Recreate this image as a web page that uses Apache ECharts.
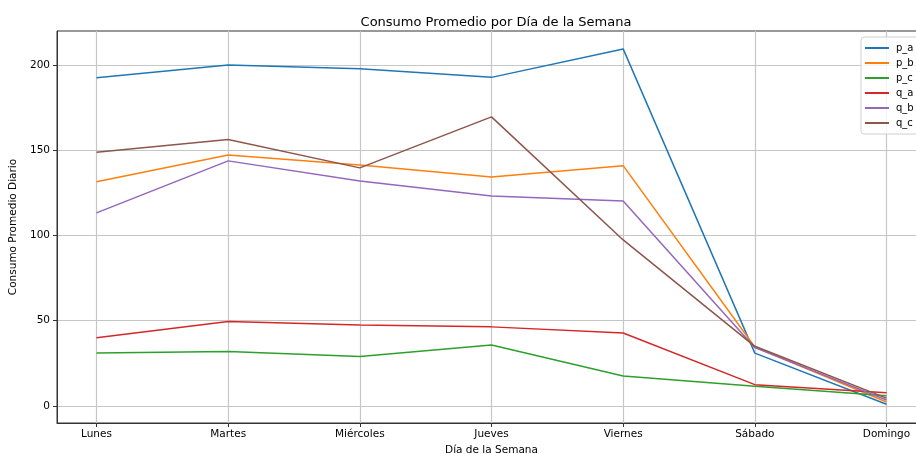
<!DOCTYPE html>
<html>
<head>
<meta charset="utf-8">
<script src="https://cdn.jsdelivr.net/npm/echarts@6/dist/echarts.min.js"></script>
<style>
  html, body { margin: 0; padding: 0; background: #fff; }
  #chart { width: 916px; height: 454px; }
</style>
</head>
<body>
<div id="chart"></div>
<script>
const days = ['Lunes', 'Martes', 'Miércoles', 'Jueves', 'Viernes', 'Sábado', 'Domingo'];
const yTicks = [0, 50, 100, 150, 200];

const p_a = [192.5, 200.0, 197.8, 192.8, 209.5, 31.0, 1.0];
const p_b = [131.5, 147.3, 141.4, 134.4, 141.0, 34.6, 2.3];
const p_c = [31.0, 32.0, 29.0, 35.8, 17.6, 11.6, 6.0];
const q_a = [40.0, 49.6, 47.5, 46.4, 42.8, 12.5, 7.8];
const q_b = [113.3, 143.8, 132.0, 123.2, 120.3, 34.2, 3.5];
const q_c = [148.8, 156.4, 139.7, 169.6, 97.4, 35.0, 4.6];

const seriesNames = ['p_a', 'p_b', 'p_c', 'q_a', 'q_b', 'q_c'];
const seriesData = [p_a, p_b, p_c, q_a, q_b, q_c];
const colors = ['#1f77b4', '#ff7f0e', '#2ca02c', '#d62728', '#9467bd', '#8c564b'];

const font = 'DejaVu Sans';
const chart = echarts.init(document.getElementById('chart'));

chart.setOption({
  animation: false,
  color: colors,
  title: {
    text: 'Consumo Promedio por Día de la Semana',
    left: 491, top: 11, textAlign: 'center',
    textStyle: { fontFamily: font, fontSize: 13, fontWeight: 'normal', color: '#000' }
  },
  legend: {
    orient: 'vertical',
    left: 861, top: 37,
    itemWidth: 24, itemHeight: 2, itemGap: 5,
    icon: 'rect',
    backgroundColor: 'rgba(255,255,255,0.8)',
    borderColor: '#d0d0d0', borderWidth: 1, borderRadius: 3,
    padding: [6, 20, 6, 4],
    textStyle: { fontFamily: font, fontSize: 10, color: '#000', padding: [0, 0, 0, 2] },
    data: seriesNames
  },
  grid: {
    left: 57, top: 31, width: 869, height: 392,
    outerBoundsMode: 'none',
    show: true, borderColor: '#333', borderWidth: 1
  },
  xAxis: {
    type: 'value', min: -0.3, max: 6.3,
    name: 'Día de la Semana', nameLocation: 'middle', nameGap: 20,
    nameTextStyle: { fontFamily: font, fontSize: 10.5, color: '#000' },
    axisLine: { show: true, onZero: false, lineStyle: { color: '#333' } },
    axisTick: { show: true, length: 4, lineStyle: { color: '#333' }, customValues: days.map((d, i) => i) },
    axisLabel: {
      fontFamily: font, fontSize: 10.5, color: '#000', margin: 6,
      customValues: days.map((d, i) => i),
      formatter: v => days[Math.round(v)]
    },
    splitLine: { show: true, lineStyle: { color: '#c6c6c6', width: 1.2 } }
  },
  yAxis: {
    type: 'value', min: -10, max: 220,
    name: 'Consumo Promedio Diario', nameLocation: 'middle', nameGap: 36, nameRotate: 90,
    nameTextStyle: { fontFamily: font, fontSize: 10.5, color: '#000' },
    axisLine: { show: true, onZero: false, lineStyle: { color: '#333' } },
    axisTick: { show: true, length: 4, lineStyle: { color: '#333' }, customValues: yTicks },
    axisLabel: { fontFamily: font, fontSize: 10.5, color: '#000', margin: 7, customValues: yTicks },
    splitLine: { show: true, lineStyle: { color: '#c6c6c6', width: 1.2 } }
  },
  series: seriesNames.map((name, k) => ({
    name: name,
    type: 'line',
    data: seriesData[k].map((v, i) => [i, v]),
    showSymbol: false,
    lineStyle: { width: 1.5 }
  }))
});
</script>
</body>
</html>
